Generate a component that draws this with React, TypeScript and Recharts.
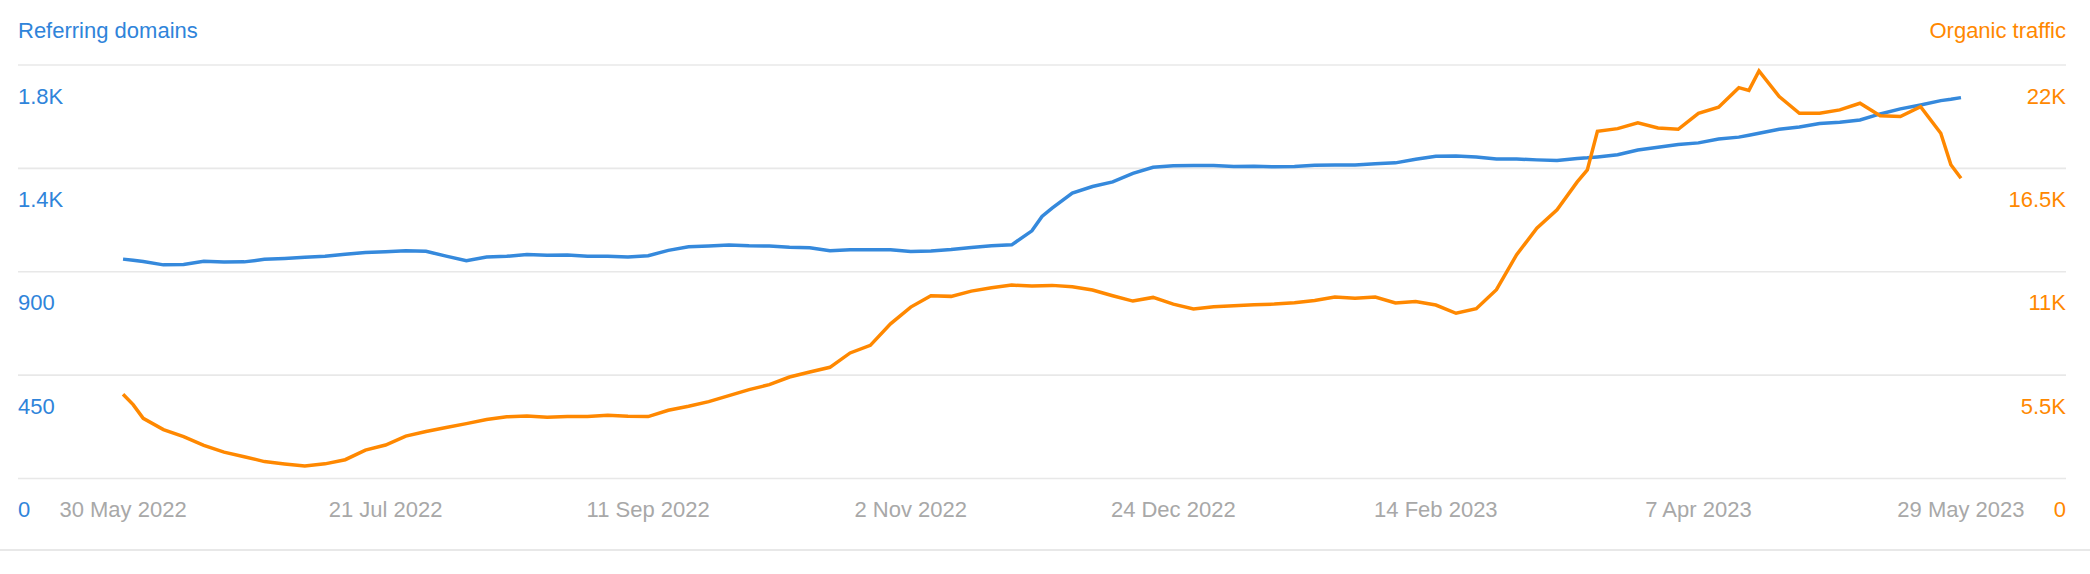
import { CartesianGrid, Line, LineChart, XAxis, YAxis } from "recharts";

// day offsets from 30 May 2022
const days = [
  0, 2, 4, 8, 12, 16, 20, 24, 28, 32, 36, 40, 44, 48, 52, 56, 60, 64, 68, 72,
  76, 80, 84, 88, 92, 96, 100, 104, 108, 112, 116, 120, 124, 128, 132, 136, 140,
  144, 148, 152, 156, 160, 164, 168, 172, 176, 180, 182, 184, 188, 192, 196, 200,
  204, 208, 212, 216, 220, 224, 228, 232, 236, 240, 244, 248, 252, 256, 260, 264,
  268, 272, 276, 280, 284, 288, 290, 292, 296, 300, 304, 308, 312, 316, 320, 322,
  324, 328, 332, 336, 340, 344, 348, 352, 356, 360, 362, 364,
];

const domains = [
  955, 950, 945, 930, 932, 946, 942, 943, 954, 958, 963, 967, 976, 984, 987, 991, 989, 968, 948, 964,
  967, 975, 972, 973, 968, 967, 964, 970, 993, 1009, 1012, 1016, 1013, 1012, 1007, 1004, 991,
  996, 996, 996, 988, 990, 997, 1006, 1013, 1017, 1078, 1141, 1177, 1242, 1271, 1291, 1328,
  1355, 1361, 1362, 1362, 1358, 1359, 1357, 1358, 1364, 1365, 1365, 1370, 1374, 1390, 1403, 1404,
  1400, 1391, 1391, 1387, 1384, 1393, 1396, 1400, 1409, 1430, 1442, 1454, 1461, 1478, 1486, 1494,
  1503, 1520, 1530, 1545, 1551, 1561, 1587, 1609, 1626, 1645, 1651, 1658,
];

const traffic = [
  4480, 3930, 3200, 2600, 2230, 1760, 1400, 1160, 900, 770, 660, 780, 1000, 1510, 1780, 2255, 2500, 2710, 2920, 3135,
  3280, 3330, 3260, 3295, 3295, 3365, 3310, 3295, 3630, 3845, 4090, 4410, 4730, 4995, 5400, 5670, 5915,
  6680, 7085, 8230, 9120, 9725, 9690, 9970, 10150, 10290, 10240, 10260, 10275, 10200, 10025, 9725, 9440,
  9635, 9280, 9015, 9140, 9195, 9245, 9280, 9350, 9475, 9655, 9585, 9655, 9335, 9420, 9230, 8790,
  9035, 10045, 11905, 13320, 14295, 15780, 16420, 18475, 18615, 18920, 18650, 18580, 19430, 19750, 20795, 20650,
  21680, 20320, 19430, 19430, 19610, 19965, 19305, 19255, 19785, 18370, 16690, 15975,
];

const dateTicks = [0, 52, 104, 156, 208, 260, 312, 364];
const dateLabels = ["30 May 2022", "21 Jul 2022", "11 Sep 2022", "2 Nov 2022", "24 Dec 2022", "14 Feb 2023", "7 Apr 2023", "29 May 2023"];

const domainTicks = [0, 450, 900, 1350, 1800];
const domainLabels = ["0", "450", "900", "1.4K", "1.8K"];

const trafficTicks = [0, 5500, 11000, 16500, 22000];
const trafficLabels = ["0", "5.5K", "11K", "16.5K", "22K"];

const BLUE = "#3589dc";
const BLUE_TEXT = "#2f84da";
const ORANGE = "#ff8800";
const GRAY = "#a8a8a8";
const GRID = "#e8e8e8";
const FONT = "'Liberation Sans', Arial, sans-serif";

const W = 2090;
const H = 574;
const LEFT = 18;
const RIGHT = 2066;
const TOP = 65;
const BOTTOM = 478.5;
const LABEL_DROP = 38.5;

const data = days.map((day, i) => ({ day, domains: domains[i], traffic: traffic[i] }));

function LeftTick(props: any) {
  const i = domainTicks.indexOf(props.payload.value);
  return (
    <text x={LEFT} y={props.y + LABEL_DROP} fill={BLUE_TEXT} fontSize={22} fontFamily={FONT} textAnchor="start">
      {domainLabels[i]}
    </text>
  );
}

function RightTick(props: any) {
  const i = trafficTicks.indexOf(props.payload.value);
  return (
    <text x={RIGHT} y={props.y + LABEL_DROP} fill={ORANGE} fontSize={22} fontFamily={FONT} textAnchor="end">
      {trafficLabels[i]}
    </text>
  );
}

function DateTick(props: any) {
  const i = dateTicks.indexOf(props.payload.value);
  return (
    <text x={props.x} y={BOTTOM + LABEL_DROP} fill={GRAY} fontSize={22} fontFamily={FONT} textAnchor="middle">
      {dateLabels[i]}
    </text>
  );
}

export default function App() {
  return (
    <div style={{ position: "relative", width: W, height: H, background: "#fff", fontFamily: FONT }}>
      <style>{"body{margin:0}"}</style>
      <div style={{ position: "absolute", left: LEFT, top: 20, fontSize: 22, lineHeight: "22px", color: BLUE_TEXT }}>
        Referring domains
      </div>
      <div style={{ position: "absolute", right: W - RIGHT, top: 20, fontSize: 22, lineHeight: "22px", color: ORANGE }}>
        Organic traffic
      </div>
      <div style={{ position: "absolute", left: 0, top: 549, width: W, height: 2, background: GRID }} />
      <LineChart
        width={W}
        height={H}
        data={data}
        margin={{ top: TOP, right: W - RIGHT - 1, bottom: H - BOTTOM - 60, left: LEFT - 1 }}
      >
        <CartesianGrid vertical={false} stroke={GRID} strokeWidth={1.6} yAxisId="left" />
        <XAxis
          dataKey="day"
          type="number"
          domain={[-20.8, 384.8]}
          ticks={dateTicks}
          interval={0}
          axisLine={false}
          tickLine={false}
          height={60}
          tick={DateTick}
        />
        <YAxis
          yAxisId="left"
          domain={[0, 1800]}
          ticks={domainTicks}
          interval={0}
          width={1}
          axisLine={false}
          tickLine={false}
          tick={LeftTick}
        />
        <YAxis
          yAxisId="right"
          orientation="right"
          domain={[0, 22000]}
          ticks={trafficTicks}
          interval={0}
          width={1}
          axisLine={false}
          tickLine={false}
          tick={RightTick}
        />
        <Line
          yAxisId="left"
          type="linear"
          dataKey="domains"
          stroke={BLUE}
          strokeWidth={3.5}
          dot={false}
          isAnimationActive={false}
        />
        <Line
          yAxisId="right"
          type="linear"
          dataKey="traffic"
          stroke={ORANGE}
          strokeWidth={3.5}
          dot={false}
          isAnimationActive={false}
        />
      </LineChart>
    </div>
  );
}
